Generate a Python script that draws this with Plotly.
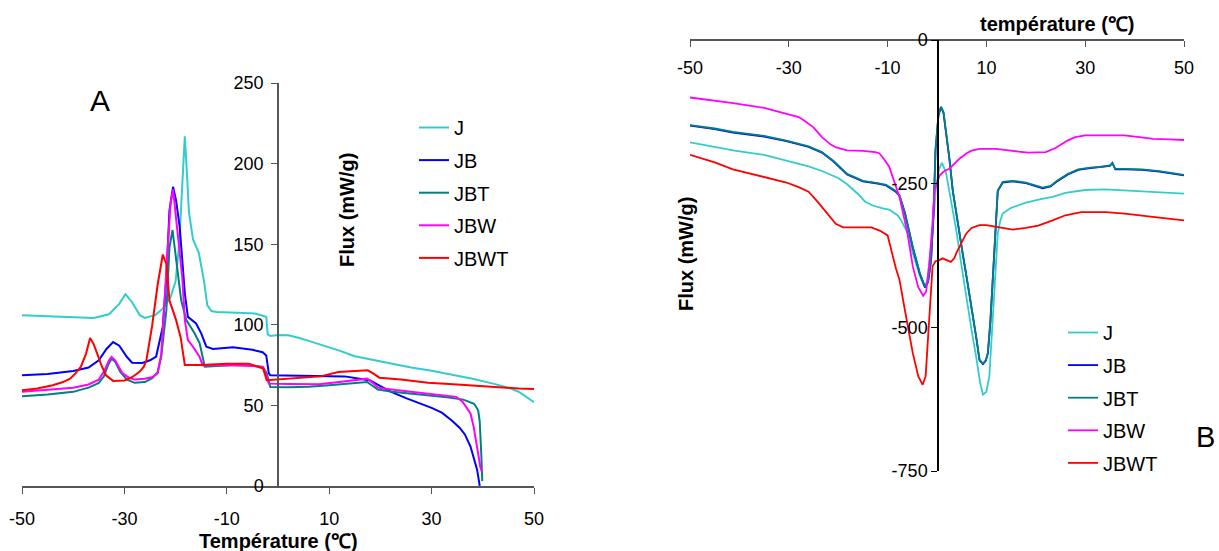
import plotly.graph_objects as go

# ---------------- Panel A : cooling thermograms (temperature, flux) ----------------
A_J = [(-50, 106), (-45, 105.5), (-40, 105), (-36, 104.2), (-33, 106.5), (-31, 113), (-29.8, 119),
       (-28.5, 114), (-27, 106), (-26, 104.3), (-24, 106), (-22.5, 110), (-21, 117), (-20, 127),
       (-19.3, 150), (-18.6, 195), (-18.2, 217), (-17.8, 195), (-17.4, 170), (-16.6, 153),
       (-15.5, 145), (-14.5, 128), (-13.8, 112), (-13, 108.5), (-12, 108), (-8, 107.5), (-4.5, 107),
       (-2.3, 105), (-2.0, 94), (-1.5, 93), (0, 93.6), (2, 93.5), (4, 92), (6, 90), (8, 88), (10, 86),
       (12, 84), (15, 80.5), (18, 78.5), (22, 76), (26, 73.5), (30, 71.5), (34, 69), (38, 66.5),
       (42, 63.5), (45, 61), (47, 58.5), (50, 52)]

A_JB = [(-50, 68.7), (-45, 69.5), (-40, 71.3), (-37, 73.5), (-35, 78), (-33.5, 85), (-32.2, 89.3),
        (-31, 87), (-29.5, 80), (-28.5, 76.5), (-26.5, 76.3), (-25, 78), (-23.8, 80.3), (-22.5, 98.8),
        (-21.8, 129.6), (-21.2, 170.8), (-20.5, 185.6), (-19.9, 177), (-19.2, 160.7), (-18.7, 140),
        (-18.2, 119.5), (-17.6, 104.9), (-16, 100.8), (-15, 94.7), (-14, 86.4), (-12.7, 85),
        (-10, 85.5), (-8.8, 86), (-5, 84.5), (-3, 83), (-2.3, 81), (-1.8, 70), (-1.5, 68.7), (2, 68.5),
        (6, 68.5), (10, 68.3), (13, 68), (16, 66.5), (18, 65.5), (20, 62), (22, 58.5), (25, 54.5),
        (28, 51), (30, 48.5), (32, 45.5), (34, 40.5), (35.5, 36), (36.5, 32), (37.6, 24.5),
        (38.3, 17), (38.9, 10), (39.4, 0)]

A_JBT = [(-50, 55.7), (-45, 56.8), (-40, 58.4), (-37, 61), (-35, 64), (-34, 68), (-33.2, 75),
         (-32.5, 79), (-31.8, 77), (-30.8, 70.7), (-29.5, 66), (-28, 64), (-26, 64.5), (-24.5, 67),
         (-23.5, 70.7), (-22.8, 80.3), (-21.8, 109), (-21.2, 148), (-20.6, 158.8), (-19.9, 140),
         (-18.9, 115), (-17.9, 102.9), (-16.3, 94.7), (-15.3, 88.5), (-14.6, 78), (-14.3, 74),
         (-12, 74.5), (-8, 75), (-5.7, 74.8), (-3, 73.8), (-2.2, 70), (-1.5, 61.4), (2, 61.3),
         (6, 61.6), (10, 62.5), (14, 63.5), (17.4, 64.5), (18.5, 62), (19.5, 59.8), (22.3, 58.4),
         (26, 57.3), (29.3, 56.3), (33, 55), (36.2, 53.6), (38.3, 51), (39.1, 47), (39.4, 40),
         (39.7, 20), (39.9, 3)]

A_JBW = [(-50, 58.4), (-45, 59.5), (-40, 61), (-37, 63), (-35, 66), (-34, 71), (-33, 78), (-32.5, 80),
         (-31.8, 78), (-30.4, 70), (-29, 67), (-28, 66), (-26, 66.5), (-24.5, 67.6), (-23.5, 70),
         (-22.8, 82), (-22.1, 119), (-21.6, 151), (-21, 175), (-20.5, 184), (-19.9, 166.5),
         (-19.2, 148), (-18.7, 129.5), (-18.2, 103), (-17.6, 90.5), (-16.6, 86.4), (-15.3, 80),
         (-14.7, 74.8), (-10, 75), (-5, 74.5), (-2.9, 73.8), (-2.2, 68), (-1.8, 63.5), (2, 63.2),
         (8, 63.1), (12, 64.5), (15, 65.5), (17.4, 66.6), (18.5, 64), (19.5, 61), (23, 59.5), (27, 58),
         (30, 57.3), (34.8, 55.3), (36, 52.5), (37, 48), (37.6, 45), (38.2, 37), (38.7, 28.5),
         (39.1, 20), (39.5, 12), (39.8, 9)]

A_JBWT = [(-50, 59.4), (-47, 60.5), (-44, 62.5), (-42, 64.5), (-40.6, 66.6), (-39.5, 70), (-38.5, 74),
          (-37.5, 82), (-36.7, 91.8), (-36, 88), (-35.3, 82), (-34.5, 75), (-33.6, 68.7), (-32.2, 65.2),
          (-30, 65.5), (-28.5, 67.5), (-27, 71), (-26.2, 74), (-25.7, 78), (-24.6, 99), (-23.5, 125),
          (-22.5, 143.6), (-22.1, 140), (-21.8, 137.9), (-21.2, 115), (-20.5, 108), (-19.9, 102.9),
          (-19, 92), (-18.5, 82), (-18.2, 75), (-15, 75), (-10, 75.9), (-5.7, 75.9), (-2.9, 72.8),
          (-2.2, 65.6), (2, 66.5), (6, 67.3), (8.3, 68), (11.8, 70.7), (15, 71.2), (17.5, 71.8),
          (18.5, 70), (19.8, 67.2), (24, 66), (29.3, 64), (35, 63), (40, 62), (43.2, 61), (47, 60.5),
          (50, 60.2)]

# ---------------- Panel B : heating thermograms (temperature, flux) ----------------
B_J = [(-50, -178), (-45, -186), (-41, -192.5), (-35, -200), (-30.5, -210), (-26, -220), (-23.3, -228),
       (-20, -240), (-18.2, -251), (-16, -268), (-14.6, -281), (-13, -288), (-11, -293), (-9.7, -295),
       (-8, -305), (-7.3, -313), (-6, -335), (-4.9, -371), (-3.5, -410), (-2.6, -429), (-2.0, -420),
       (-1.2, -360), (-0.6, -300), (-0.2, -256), (0.4, -225), (1, -214), (1.8, -230), (2.8, -280),
       (3.9, -331), (5, -395), (5.9, -446), (7, -505), (7.9, -550), (8.7, -595), (9.3, -617),
       (10, -612), (10.6, -585), (11.3, -475), (11.8, -400), (12.3, -337), (12.8, -315), (13.3, -302),
       (15, -292), (16.7, -287), (18, -283), (21, -277), (23.4, -273), (26, -266), (30, -261),
       (34, -260), (38, -262), (42, -264), (46, -266), (50, -267.5)]

B_JB = [(-50, -149), (-45, -155), (-41.3, -161), (-35, -168), (-30.5, -176), (-26, -186), (-23.3, -196),
        (-21, -211), (-18.2, -234), (-16, -243), (-15, -246), (-12, -250), (-10.3, -253), (-8.5, -263),
        (-7.6, -271), (-6.5, -301), (-4.9, -361), (-3.5, -406), (-2.4, -431), (-1.8, -421),
        (-1.2, -384), (-0.7, -301), (-0.3, -191), (0.3, -131), (0.8, -117), (1.3, -126), (1.8, -159),
        (2.5, -206), (3.2, -263), (4.2, -321), (5.2, -372), (6.2, -424), (7.2, -476), (8, -521),
        (8.6, -557), (9.3, -564), (9.9, -558), (10.3, -545), (10.8, -491), (11.3, -418), (11.8, -331),
        (12.3, -263), (13.3, -248), (15.3, -246), (18, -249), (21.4, -258), (23, -255), (24.3, -246),
        (26.5, -234), (28.6, -226), (31, -223), (33, -221), (35, -219), (35.5, -214), (36.1, -225),
        (38, -225), (41.5, -226), (45, -229), (50, -235.5)]

B_JBT = [(-50, -148), (-45, -154), (-41.3, -160), (-35, -167), (-30.5, -175), (-26, -185), (-23.3, -195),
         (-21, -210), (-18.2, -233), (-16, -242), (-15, -245), (-12, -249), (-10.3, -252), (-8.5, -262),
         (-7.6, -270), (-6.5, -300), (-4.9, -360), (-3.5, -405), (-2.4, -430), (-1.8, -420),
         (-1.2, -383), (-0.7, -300), (-0.3, -190), (0.3, -130), (0.8, -116), (1.3, -125), (1.8, -158),
         (2.5, -205), (3.2, -262), (4.2, -320), (5.2, -371), (6.2, -423), (7.2, -475), (8, -520),
         (8.6, -556), (9.3, -563), (9.9, -557), (10.3, -544), (10.8, -490), (11.3, -417), (11.8, -330),
         (12.3, -262), (13.3, -247), (15.3, -245), (18, -248), (21.4, -257), (23, -254), (24.3, -245),
         (26.5, -233), (28.6, -225), (31, -222), (33, -221), (35, -218), (35.5, -215), (36.1, -224),
         (38, -224), (41.5, -225), (45, -228), (50, -234.7)]

B_JBW = [(-50, -100), (-45, -105), (-41.3, -110), (-35, -118), (-30.5, -128), (-28, -134), (-26.9, -140),
         (-25, -152), (-23.3, -169), (-21.5, -182), (-20.4, -187), (-18.2, -192), (-15, -193),
         (-12.5, -195), (-11.7, -197), (-11, -204), (-9.7, -220), (-8.5, -250), (-7.6, -273),
         (-6, -335), (-4.9, -394), (-3.8, -430), (-2.8, -445), (-2.2, -438), (-1.6, -394), (-1, -330),
         (-0.5, -262), (0.5, -236), (1.5, -228), (2.5, -224), (3.5, -216), (4.5, -207), (6, -197),
         (7, -192.5), (8.6, -189.5), (12, -189.5), (15.3, -193), (18.5, -196), (22, -195), (24, -188),
         (26.4, -175), (28, -169), (30, -166), (34, -165.5), (37.9, -166), (41, -169), (43.7, -172),
         (47, -173), (50, -174)]

B_JBWT = [(-50, -200), (-45, -213), (-41.3, -225), (-35, -238), (-30.5, -248), (-28, -256), (-26, -264),
          (-24.1, -282), (-22, -305), (-20.5, -320), (-19, -326), (-16, -326), (-13.3, -326),
          (-11.5, -332), (-10, -340), (-8.3, -398), (-7.6, -417), (-6.5, -470), (-4.9, -545),
          (-3.8, -585), (-2.9, -600), (-2.3, -585), (-1.9, -533), (-1.4, -460), (-0.9, -394),
          (-0.3, -385), (0.5, -383), (1.1, -380), (2, -383), (2.8, -386), (3.5, -380), (3.9, -371),
          (5, -352), (5.9, -337), (7, -327), (8.6, -322), (10, -322), (12, -325), (15.3, -330),
          (18, -327), (20.5, -323), (23.4, -314), (26, -305), (29.2, -299.5), (34.2, -299.5),
          (38, -302), (41.4, -305), (45, -309), (50, -314)]

SERIES = ["J", "JB", "JBT", "JBW", "JBWT"]
COLORS = {"J": "#33CCCC", "JB": "#0000FF", "JBT": "#008080", "JBW": "#FF00FF", "JBWT": "#FF0000"}
PANEL_A = {"J": A_J, "JB": A_JB, "JBT": A_JBT, "JBW": A_JBW, "JBWT": A_JBWT}
PANEL_B = {"J": B_J, "JB": B_JB, "JBT": B_JBT, "JBW": B_JBW, "JBWT": B_JBWT}

X_TICKS = [-50, -30, -10, 10, 30, 50]
A_Y_TICKS = [0, 50, 100, 150, 200, 250]
B_Y_TICKS = [0, -250, -500, -750]

W, H = 1219, 551
FONT = "Liberation Sans, Arial, sans-serif"


def px(x):
    return x / W


def py(y):
    return 1 - y / H


def labels(vals):
    # plain hyphen-minus for negative tick labels
    return [str(v) for v in vals]


fig = go.Figure()

for name in SERIES:
    t, f = zip(*PANEL_A[name])
    fig.add_trace(go.Scatter(x=t, y=f, mode="lines", name=name, xaxis="x", yaxis="y",
                             line=dict(color=COLORS[name], width=2), legend="legend",
                             legendgroup="a" + name))
for name in SERIES:
    t, f = zip(*PANEL_B[name])
    fig.add_trace(go.Scatter(x=t, y=f, mode="lines", name=name, xaxis="x2", yaxis="y2",
                             line=dict(color=COLORS[name], width=1.8), legend="legend2",
                             legendgroup="b" + name))

axis_common = dict(showgrid=False, zeroline=False, showline=True, ticks="outside", automargin=False,
                   tickfont=dict(family=FONT, size=18, color="black"), tickcolor="#555555",
                   linecolor="#555555", linewidth=1.5, ticklen=6)

fig.update_layout(
    width=W, height=H,
    margin=dict(l=0, r=0, t=0, b=0, autoexpand=False),
    paper_bgcolor="white", plot_bgcolor="white",
    font=dict(family=FONT, color="black"),
    xaxis=dict(domain=[px(22), px(534)], range=[-50, 50], anchor="y", tickvals=X_TICKS,
               ticktext=labels(X_TICKS), ticklabelstandoff=10, **axis_common),
    yaxis=dict(domain=[py(486), py(83)], range=[0, 250], anchor="free", position=px(278),
               tickvals=A_Y_TICKS, ticktext=labels(A_Y_TICKS), ticklabelstandoff=4, **axis_common),
    xaxis2=dict(domain=[px(690), px(1184)], range=[-50, 50], anchor="free", position=py(40),
                side="bottom", tickvals=X_TICKS, ticktext=labels(X_TICKS), ticklabelstandoff=6,
                **axis_common),
    yaxis2=dict(domain=[py(471), py(40)], range=[-750, 0], anchor="free", position=px(938),
                tickvals=B_Y_TICKS, ticktext=labels(B_Y_TICKS), ticklabelstandoff=0,
                **{**axis_common, "linecolor": "black", "tickcolor": "black"}),
    legend=dict(x=px(414), y=py(108), xanchor="left", yanchor="top", bgcolor="rgba(0,0,0,0)",
                font=dict(family=FONT, size=20, color="black"), tracegroupgap=3.6),
    legend2=dict(x=px(1063), y=py(313), xanchor="left", yanchor="top", bgcolor="rgba(0,0,0,0)",
                 font=dict(family=FONT, size=20, color="black"), tracegroupgap=3.6),
)

title_font = dict(family=FONT, size=20, color="black")
fig.add_annotation(text="<b>Température (℃)</b>", x=px(278), y=py(541), xref="paper", yref="paper",
                   showarrow=False, font=title_font, xanchor="center", yanchor="middle")
fig.add_annotation(text="<b>Flux (mW/g)</b>", x=px(347), y=py(210), xref="paper", yref="paper",
                   showarrow=False, font=title_font, textangle=-90, xanchor="center", yanchor="middle")
fig.add_annotation(text="<b>température (℃)</b>", x=px(1057), y=py(24), xref="paper", yref="paper",
                   showarrow=False, font=title_font, xanchor="center", yanchor="middle")
fig.add_annotation(text="<b>Flux (mW/g)</b>", x=px(686), y=py(254), xref="paper", yref="paper",
                   showarrow=False, font=title_font, textangle=-90, xanchor="center", yanchor="middle")
fig.add_annotation(text="A", x=px(100), y=py(100), xref="paper", yref="paper", showarrow=False,
                   font=dict(family=FONT, size=30, color="black"), xanchor="center", yanchor="middle")
fig.add_annotation(text="B", x=px(1205), y=py(437), xref="paper", yref="paper", showarrow=False,
                   font=dict(family=FONT, size=29, color="black"), xanchor="center", yanchor="middle")

fig.write_html("out.html")
